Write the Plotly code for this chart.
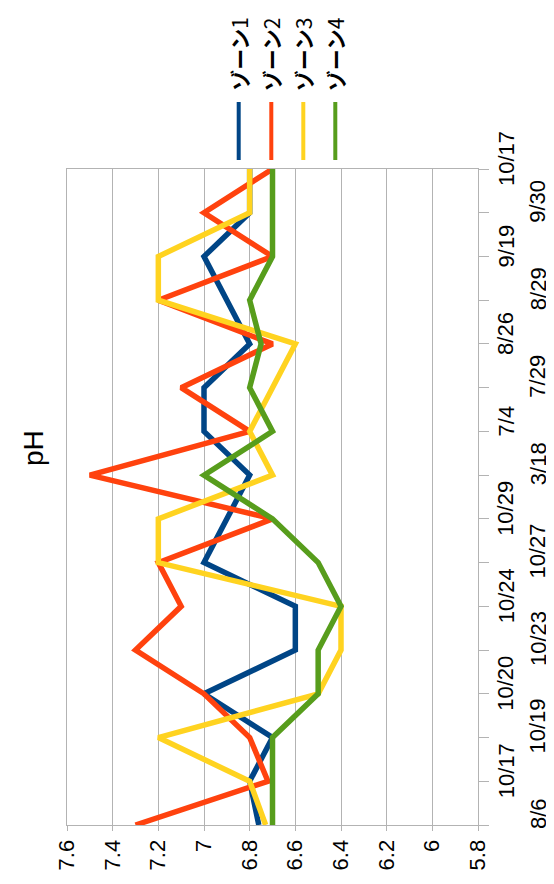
import plotly.graph_objects as go

categories = ["8/6", "10/17", "10/19", "10/20", "10/23", "10/24", "10/27", "10/29",
              "3/18", "7/4", "7/29", "8/26", "8/29", "9/19", "9/30", "10/17"]
series_names = ["ゾーン1", "ゾーン2", "ゾーン3", "ゾーン4"]
zone1 = [6.76, 6.8, 6.7, 7.0, 6.6, 6.6, 7.0, 6.9, 6.8, 7.0, 7.0, 6.8, 6.9, 7.0, 6.8, 6.8]
zone2 = [7.3, 6.72, 6.8, 7.0, 7.3, 7.1, 7.2, 6.7, 7.5, 6.8, 7.1, 6.7, 7.2, 6.7, 7.0, 6.7]
zone3 = [6.73, 6.8, 7.2, 6.5, 6.4, 6.4, 7.2, 7.2, 6.7, 6.8, 6.7, 6.6, 7.2, 7.2, 6.8, 6.8]
zone4 = [6.7, 6.7, 6.7, 6.5, 6.5, 6.4, 6.5, 6.7, 7.0, 6.7, 6.8, 6.75, 6.8, 6.7, 6.7, 6.7]
ph_ticks = [7.6, 7.4, 7.2, 7.0, 6.8, 6.6, 6.4, 6.2, 6.0, 5.8]
ph_labels = ["7.6", "7.4", "7.2", "7", "6.8", "6.6", "6.4", "6.2", "6", "5.8"]
title_text = "pH"

colors = ["#004586", "#ff420e", "#ffd320", "#579d1c"]
all_series = [zone1, zone2, zone3, zone4]
positions = list(range(len(categories)))

W, H = 554, 884
L, R, T, B = 59, 84, 161, 67
pw, ph = W - L - R, H - T - B

fig = go.Figure()
for name, vals, col in zip(series_names, all_series, colors):
    fig.add_trace(go.Scatter(x=vals, y=positions, mode="lines", name=name,
                             line=dict(color=col, width=5.5), cliponaxis=False))

font_main = "Liberation Sans, Arial, sans-serif"
grid = "#b3b3b3"

fig.update_layout(
    width=W, height=H,
    margin=dict(l=L, r=R, t=T, b=B, pad=0),
    plot_bgcolor="white", paper_bgcolor="white",
    showlegend=False,
    font=dict(family=font_main, color="black", size=22),
    xaxis=dict(range=[ph_ticks[0], ph_ticks[-1]], tickvals=ph_ticks, ticktext=ph_labels,
               tickangle=-90, showgrid=True, gridcolor=grid, gridwidth=1,
               showline=True, linecolor=grid, linewidth=1, mirror=True,
               ticks="outside", ticklen=5, tickcolor=grid, tickwidth=1,
               zeroline=False, tickfont=dict(size=22, family=font_main, color="black")),
    yaxis=dict(range=[0, len(categories) - 1], tickvals=positions, showticklabels=False,
               side="right", ticks="outside", ticklen=10, tickcolor=grid, tickwidth=1,
               showgrid=False, showline=True, linecolor=grid, linewidth=1, mirror=True,
               zeroline=False),
)

annotations = []
# category labels, staggered in two columns
for i, lab in enumerate(categories):
    xpx = 530 if i % 2 == 0 else 498
    annotations.append(dict(text=lab, x=(xpx - L) / pw, xref="paper", y=i, yref="y",
                            xanchor="center", yanchor="middle", textangle=-90,
                            showarrow=False, yshift=11,
                            font=dict(size=22, family=font_main, color="black")))
# title
annotations.append(dict(text=title_text, x=(25 - L) / pw, xref="paper",
                        y=(H - B - 440) / ph, yref="paper", xanchor="center", yanchor="middle",
                        textangle=-90, showarrow=False,
                        font=dict(size=28, family=font_main, color="black")))
# legend
shapes = []
leg_x = [230.7, 263.3, 295.3, 327.3]
for name, col, xp in zip(series_names, colors, leg_x):
    xpap = (xp - L) / pw
    shapes.append(dict(type="line", xref="paper", yref="paper", x0=xpap, x1=xpap,
                       y0=(H - B - 152) / ph, y1=(H - B - 94) / ph,
                       line=dict(color=col, width=4)))
    label = "<b>" + name[:-1] + "</b>" + name[-1]
    annotations.append(dict(text=label, x=xpap, xref="paper", y=(H - B - 46) / ph, yref="paper",
                            xanchor="center", yanchor="middle", textangle=-90, showarrow=False,
                            font=dict(size=21, family="Noto Sans CJK JP", color="black")))
fig.update_layout(annotations=annotations, shapes=shapes)

fig.write_html("out.html")
